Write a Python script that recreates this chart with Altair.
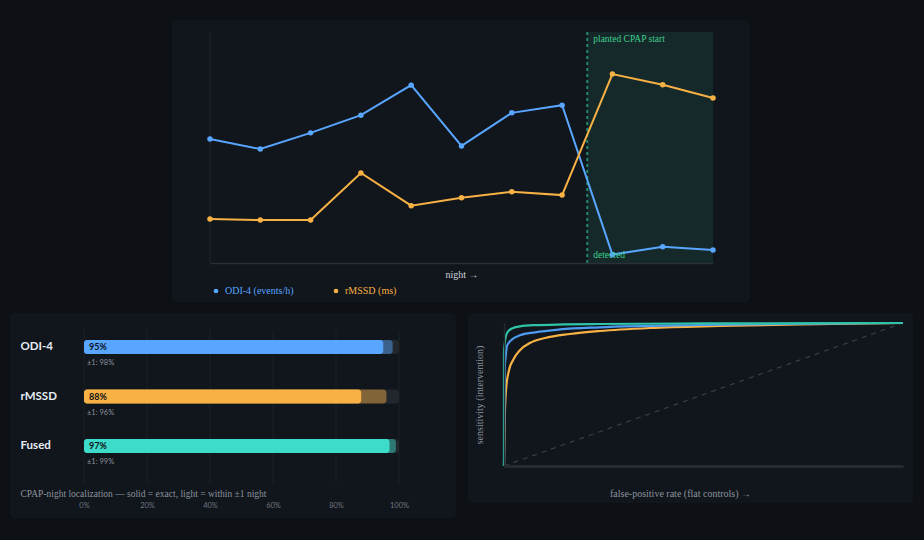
import altair as alt
import pandas as pd

# ---------------------------------------------------------------- palette
PAGE = "#0d1014"
CARD = "#11151c"
BLUE = "#58a6ff"
ORANGE = "#f7b144"
TEAL = "#3ddbc9"
ROC_TEAL = "#2fc4a8"
GREEN = "#3ecf8e"
GRID = "#1c2027"
AXIS = "#2b3038"
MUTED = "#8b949e"
LIGHT = "#d0d6dd"
SERIF = "Liberation Serif"
SANS = "Lato"

# ---------------------------------------------------------------- nightly series
nights = list(range(11))
odi4 = [16.1, 14.8, 16.9, 19.2, 23.1, 15.2, 19.5, 20.5, 1.1, 2.1, 1.7]        # events/h
rmssd = [29.5, 29.3, 29.3, 39.5, 32.4, 34.1, 35.4, 34.7, 60.9, 58.6, 55.7]     # ms
planted_start = 7.5
detected_night = 8

# ---------------------------------------------------------------- localization accuracy
metrics = ["ODI-4", "rMSSD", "Fused"]
exact_pct = [95, 88, 97]
within1_pct = [98, 96, 99]
metric_colors = [BLUE, ORANGE, TEAL]
pct_ticks = [0, 20, 40, 60, 80, 100]

# ---------------------------------------------------------------- ROC curves
roc_odi_fpr = [0, 0.002, 0.004, 0.0075, 0.02, 0.04, 0.078, 0.14, 0.24, 0.49, 0.75, 1.0]
roc_odi_tpr = [0, 0.70, 0.76, 0.84, 0.885, 0.914, 0.935, 0.955, 0.97, 0.986, 0.995, 1.0]
roc_rmssd_fpr = [0, 0.002, 0.005, 0.0125, 0.0225, 0.04, 0.065, 0.103, 0.165, 0.24, 0.366, 0.54, 0.74, 1.0]
roc_rmssd_tpr = [0, 0.34, 0.53, 0.67, 0.74, 0.81, 0.86, 0.895, 0.923, 0.944, 0.965, 0.979, 0.99, 1.0]
roc_fused_fpr = [0, 0.0, 0.002, 0.0075, 0.02, 0.04, 0.078, 0.15, 0.24, 0.5, 1.0]
roc_fused_tpr = [0, 0.80, 0.86, 0.93, 0.962, 0.976, 0.985, 0.99, 0.993, 0.997, 1.0]


def card(x0, x1, y0, y1, fill=CARD):
    """Rounded panel background behind a chart (pixel offsets from the plot origin)."""
    return alt.Chart(alt.Data(values=[{"panel": 1}])).mark_rect(
        color=fill, cornerRadius=4
    ).encode(x=alt.value(x0), x2=alt.value(x1), y=alt.value(y0), y2=alt.value(y1))


# ================================================================ top: nightly trend
# The top view shares its left edge with the bar panel below; the night axis
# occupies the pixel range [NX0, NX1] inside it so the card sits centred.
TW, TH = 629, 231
NX0, NX1 = 126, 629
night_scale = alt.Scale(domain=[0, 10], nice=False, range=[NX0, NX1])
series = pd.DataFrame({"night": nights, "odi": odi4, "rmssd": rmssd})
series["odi_name"] = "ODI-4 (events/h)"
series["rmssd_name"] = "rMSSD (ms)"

x_night = alt.X(
    "night:Q",
    scale=night_scale,
    axis=alt.Axis(
        title="night \u2192", labels=False, ticks=False, grid=False, zindex=1,
        domainColor=AXIS, domainWidth=1.5, titleFont=SERIF, titleFontSize=10,
        titleFontWeight="normal", titleColor=LIGHT, titlePadding=6,
    ),
)

window = pd.DataFrame({"start": [planted_start], "end": [nights[-1]], "first": [nights[0]]})
shade = alt.Chart(window).mark_rect(color="#15292a").encode(
    x=alt.X("start:Q", scale=night_scale), x2="end:Q"
)
left_edge = alt.Chart(window).mark_rule(color="#22272e", strokeWidth=1).encode(x="first:Q")
start_rule = alt.Chart(window).mark_rule(
    color="#23876a", strokeWidth=2, strokeDash=[3, 3]
).encode(x="start:Q")
planted_label = alt.Chart(window).mark_text(
    text="planted CPAP start", align="left", baseline="middle", dx=6,
    font=SERIF, fontSize=9.5, color=GREEN,
).encode(x="start:Q", y=alt.value(7))

odi_y = alt.Y("odi:Q", scale=alt.Scale(domain=[0, 30], nice=False), axis=None)
odi_color = alt.Color(
    "odi_name:N",
    scale=alt.Scale(domain=["ODI-4 (events/h)"], range=[BLUE]),
    legend=alt.Legend(
        title=None, orient="none", legendX=NX0 + 1, legendY=254, symbolType="circle",
        symbolSize=22, labelColor=BLUE, labelFont=SERIF, labelFontSize=10,
        symbolStrokeWidth=0,
    ),
)
odi_line = alt.Chart(series).mark_line(strokeWidth=2).encode(x=x_night, y=odi_y, color=odi_color)
odi_pts = alt.Chart(series).mark_circle(size=30, opacity=1).encode(x=x_night, y=odi_y, color=odi_color)
detected = alt.Chart(series[series.night == detected_night]).mark_text(
    text="detected", align="left", baseline="middle", dx=6,
    font=SERIF, fontSize=9.5, color=GREEN,
).encode(x=alt.datum(planted_start), y=odi_y)

rm_y = alt.Y("rmssd:Q", scale=alt.Scale(domain=[20, 70], nice=False), axis=None)
rm_color = alt.Color(
    "rmssd_name:N",
    scale=alt.Scale(domain=["rMSSD (ms)"], range=[ORANGE]),
    legend=alt.Legend(
        title=None, orient="none", legendX=NX0 + 121, legendY=254, symbolType="circle",
        symbolSize=22, labelColor=ORANGE, labelFont=SERIF, labelFontSize=10,
        symbolStrokeWidth=0,
    ),
)
rm_line = alt.Chart(series).mark_line(strokeWidth=2).encode(x=x_night, y=rm_y, color=rm_color)
rm_pts = alt.Chart(series).mark_circle(size=30, opacity=1).encode(x=x_night, y=rm_y, color=rm_color)

top = alt.layer(
    card(NX0 - 38, NX1 + 37, -12, 270),
    shade, left_edge, start_rule,
    alt.layer(odi_line, odi_pts, detected),
    alt.layer(rm_line, rm_pts),
    planted_label,
).resolve_scale(y="independent", color="independent").properties(width=TW, height=TH)

# ================================================================ bottom-left: localization bars
BW, BH = 315, 160
BAR_SHIFT = -6.5
acc = pd.DataFrame({"metric": metrics, "exact": exact_pct, "within1": within1_pct})
acc["zero"] = 0
acc["full"] = 100
acc["exact_label"] = [f"{v}%" for v in exact_pct]
acc["within_label"] = [f"\u00b11: {v}%" for v in within1_pct]

y_metric = alt.Y(
    "metric:N", sort=metrics,
    scale=alt.Scale(paddingInner=0, paddingOuter=0.116),
    axis=alt.Axis(
        title=None, domain=False, ticks=False, grid=False, labelAlign="left", zindex=1,
        labelPadding=64, labelOffset=BAR_SHIFT, labelFont=SANS, labelFontWeight="bold",
        labelFontSize=11.5, labelColor="#e6edf3",
    ),
)
y_plain = alt.Y("metric:N", sort=metrics)
x_pct = alt.X(
    "zero:Q", scale=alt.Scale(domain=[0, 100], nice=False),
    axis=alt.Axis(
        values=pct_ticks, labelExpr="datum.value + '%'", zindex=1, labelFlush=False,
        grid=False, domain=False, ticks=False,
        labelFont=SANS, labelFontSize=7.5, labelColor="#6e7681", labelPadding=18,
        title="CPAP-night localization \u2014 solid = exact, light = within \u00b11 night",
        titleFont=SERIF, titleFontSize=9.5, titleFontWeight="normal", titleColor=MUTED,
        titleAlign="left", titleBaseline="middle", titleX=-64, titleY=10,
    ),
)
bar_color = alt.Color("metric:N", scale=alt.Scale(domain=metrics, range=metric_colors), legend=None)

gridlines = alt.Chart(pd.DataFrame({"tick": pct_ticks})).mark_rule(
    color=GRID, strokeWidth=1
).encode(
    x=alt.X("tick:Q", scale=alt.Scale(domain=[0, 100], nice=False)),
    y=alt.value(7), y2=alt.value(BH),
)

base = alt.Chart(acc)
track = base.mark_bar(color="#22272e", cornerRadius=3, size=14, yOffset=BAR_SHIFT).encode(
    y=y_metric, x=x_pct, x2="full:Q"
)
light = base.mark_bar(cornerRadius=3, size=14, yOffset=BAR_SHIFT, opacity=0.45).encode(
    y=y_plain, x="zero:Q", x2="within1:Q", color=bar_color
)
solid = base.mark_bar(cornerRadius=3, size=14, yOffset=BAR_SHIFT).encode(
    y=y_plain, x="zero:Q", x2="exact:Q", color=bar_color
)
val_text = base.mark_text(
    align="left", baseline="middle", dx=5, yOffset=BAR_SHIFT, font=SANS,
    fontWeight="bold", fontSize=9, color="#0d1117",
).encode(y=y_plain, x="zero:Q", text="exact_label:N")
sub_text = base.mark_text(
    align="left", baseline="middle", dx=3, yOffset=BAR_SHIFT + 16, font=SANS,
    fontSize=7.5, color=MUTED,
).encode(y=y_plain, x="zero:Q", text="within_label:N")

bars = alt.layer(
    card(-74, 372, -10, 195), gridlines, track, light, solid, val_text, sub_text
).properties(width=BW, height=BH)

# ================================================================ bottom-right: ROC
RW, RH = 399, 143
roc_rows = []
for name, fpr, tpr in [
    ("rMSSD", roc_rmssd_fpr, roc_rmssd_tpr),
    ("ODI-4", roc_odi_fpr, roc_odi_tpr),
    ("Fused", roc_fused_fpr, roc_fused_tpr),
]:
    for i, (f, t) in enumerate(zip(fpr, tpr)):
        roc_rows.append({"model": name, "fpr": f, "tpr": t, "step": i})
roc = pd.DataFrame(roc_rows)

x_fpr = alt.X(
    "fpr:Q", scale=alt.Scale(domain=[0, 1], nice=False),
    axis=alt.Axis(
        title="false-positive rate (flat controls) \u2192", labels=False, ticks=False,
        grid=False, domainColor="#262a31", domainWidth=3, titleFont=SERIF, zindex=1,
        titleFontSize=10, titleFontWeight="normal", titleColor=MUTED,
        titlePadding=22, titleX=176,
    ),
)
y_tpr = alt.Y(
    "tpr:Q", scale=alt.Scale(domain=[0, 1], nice=False),
    axis=alt.Axis(
        title="sensitivity (intervention)", labels=False, ticks=False, grid=False,
        domainColor="#262a31", domainWidth=1.5, titleFont=SERIF, titleFontSize=10,
        titleFontWeight="normal", titleColor=MUTED, titlePadding=20, zindex=1,
    ),
)
chance = alt.Chart(pd.DataFrame({"fpr": [0, 1], "tpr": [0, 1]})).mark_line(
    color="#3a3f47", strokeWidth=1.2, strokeDash=[5, 5]
).encode(x=x_fpr, y=y_tpr)

roc_colors = {"rMSSD": ORANGE, "ODI-4": "#4d9cf0", "Fused": ROC_TEAL}
roc_layers = [
    alt.Chart(roc[roc.model == m]).mark_line(
        color=c, strokeWidth=2.2, interpolate="monotone"
    ).encode(x="fpr:Q", y="tpr:Q", order="step:Q")
    for m, c in roc_colors.items()
]
roc_chart = alt.layer(
    card(-36, 409, -10, 180), chance, *roc_layers
).properties(width=RW, height=RH)

# ================================================================ assemble
bottom = alt.hconcat(bars, roc_chart, spacing=12)
chart = alt.vconcat(top, bottom, spacing=11).properties(
    background=PAGE,
    padding={"left": 10, "top": 20, "right": 11, "bottom": 22},
).configure_view(stroke=None)

chart.save("out.html", embed_options={"renderer": "svg", "actions": False})
